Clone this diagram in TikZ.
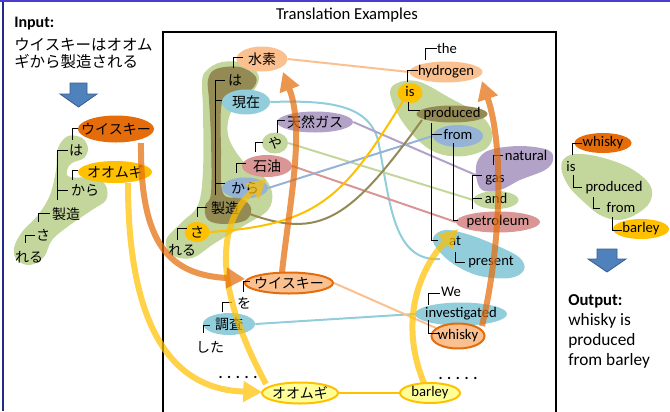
\documentclass[tikz,border=0pt]{standalone}
\usepackage{fontspec}
\setmainfont{Carlito}
\newfontfamily\jp{Noto Sans CJK JP}
\usetikzlibrary{shapes.geometric,arrows.meta}

\definecolor{dkorange}{HTML}{E46C0A}
\definecolor{ltorange}{HTML}{FAC090}
\definecolor{gold}{HTML}{FFC000}
\definecolor{ltyellow}{HTML}{FFFF99}
\definecolor{ltgreen}{HTML}{C3D69B}
\definecolor{olive}{HTML}{948A54}
\definecolor{ltblue}{HTML}{92CDDC}
\definecolor{slateblue}{HTML}{95B3D7}
\definecolor{lilac}{HTML}{B3A2C7}
\definecolor{rose}{HTML}{D99694}
\definecolor{arrowfill}{HTML}{4F81BD}
\definecolor{arrowedge}{HTML}{385D8A}
\definecolor{frametop}{HTML}{4A3CCF}
\definecolor{frameleft}{HTML}{1F2A8A}

\pgfdeclarelayer{under}
\pgfsetlayers{under,main}

\tikzset{
  en/.style={font=\fontsize{11}{13}\selectfont, inner sep=0pt, text height=8pt, text depth=2.5pt},
  ja/.style={font=\jp\fontsize{10.5}{12}\selectfont, inner sep=0pt, text height=9pt, text depth=1.3pt},
  ov/.style 2 args={ellipse, inner sep=0pt, minimum width=#1*0.75pt, minimum height=#2*0.75pt},
  jt/.style={label={[ja]center:#1}},
  et/.style={label={[en]center:#1}},
  treeline/.style={line width=0.7pt, black},
  conn/.style={line width=1.5pt},
  band/.style={line width=4.5pt, -{Triangle[length=14pt,width=15pt]}},
  blockarrow/.style={fill=arrowfill, draw=arrowedge, line width=0.6pt},
  dots/.style={font=\bfseries\fontsize{11.5}{13}\selectfont, inner sep=0pt},
  plain/.style={anchor=base west, inner sep=0pt, font=\fontsize{13}{15}\selectfont},
}

\begin{document}
\begin{tikzpicture}[x=0.75pt, y=-0.75pt]
\useasboundingbox (0,0) rectangle (670,411);

% slide frame
\draw[frameleft, line width=1.2pt] (3,0) -- (3,411);
\draw[frametop, line width=1.2pt] (0,1) -- (670,1);

% examples panel
\draw[line width=1.5pt] (163,416) -- (163,32) -- (556,32) -- (556,416);
\node[font=\fontsize{12.5}{15}\selectfont, inner sep=0pt] (title) at (347,15) {Translation Examples};

% ---------- input ----------
\node[anchor=base west, inner sep=0pt, font=\bfseries\fontsize{12}{14}\selectfont] (inlabel) at (14,27) {Input:};
\node[anchor=base west, inner sep=0pt, font=\jp\fontsize{11.6}{14}\selectfont] (inline1) at (14,50) {ウイスキーはオオム};
\node[anchor=base west, inner sep=0pt, font=\jp\fontsize{11.6}{14}\selectfont] (inline2) at (14,67) {ギから製造される};
\draw[blockarrow] (70,83) -- (87,83) -- (87,94) -- (97,94) -- (78.5,107) -- (60,94) -- (70,94) -- cycle;

% ---------- phrase regions ----------
\begin{pgfonlayer}{under}
  % input tree
  \fill[ltgreen] plot[smooth cycle, tension=0.6] coordinates {(68,136) (82,138) (88,148) (84,158) (72,163) (67,170) (70,177) (95,178) (106,186) (106,200) (92,210) (70,225) (52,240) (44,257) (30,265) (17,260) (14,248) (22,232) (38,215) (50,195) (56,170) (58,148)};
  % Japanese example
  \fill[ltgreen] plot[smooth cycle, tension=0.6] coordinates {(205,72) (222,62) (248,64) (259,78) (250,95) (232,110) (228,135) (242,160) (262,175) (272,192) (268,210) (245,225) (215,243) (192,258) (172,255) (166,240) (182,222) (198,205) (203,170) (203,110) (202,85)};
  \fill[olive] plot[smooth cycle, tension=0.6] coordinates {(208,80) (216,69) (240,67) (256,77) (252,89) (235,95) (222,102) (221,150) (223,193) (241,198) (251,208) (246,220) (225,224) (208,220) (205,206) (211,193) (211,140) (209,100)};
  % English example
  \fill[ltgreen] plot[smooth cycle, tension=0.6] coordinates {(390,92) (400,82) (420,82) (450,98) (480,115) (492,132) (487,148) (465,156) (440,154) (420,142) (400,118)};
  \fill[lilac] plot[smooth cycle, tension=0.6] coordinates {(478,160) (490,150) (520,146) (548,150) (553,160) (545,170) (520,180) (500,190) (482,190) (476,175)};
  \fill[ltblue] plot[smooth cycle, tension=0.6] coordinates {(433,238) (445,230) (470,235) (500,247) (520,258) (524,270) (510,278) (480,276) (455,265) (438,250)};
  % output tree
  \fill[ltgreen] plot[smooth cycle, tension=0.6] coordinates {(563,160) (575,154) (600,157) (630,168) (650,185) (650,202) (635,215) (618,220) (600,215) (585,203) (570,188) (562,172)};
\end{pgfonlayer}

% ---------- input tree ----------
\node[ov={76}{27}, fill=dkorange, jt=ウイスキー] (wain) at (116,129) {};
\node[ja] (hain) at (76,150) {は};
\node[ov={74}{22}, fill=gold, jt=オオムギ] (oomugiin) at (115,172) {};
\node[ja] (karain) at (85,190) {から};
\node[ja] (seizoin) at (66,214) {製造};
\node[ja] (sain) at (43,235) {さ};
\node[ja] (reruin) at (29,257) {れる};

% ---------- Japanese example ----------
\node[ov={51}{25}, fill=ltorange, jt=水素] (suiso) at (262,59) {};
\node[ja] (ha) at (235,80) {は};
\node[ov={48}{25}, fill=ltblue, jt=現在] (genzai) at (246,102) {};
\node[ov={76}{21}, fill=lilac, jt=天然ガス] (tennen) at (315,122) {};
\node[ov={26}{21}, fill=ltgreen, jt=や] (ya) at (275,143) {};
\node[ov={50}{22}, fill=rose, jt=石油] (sekiyu) at (267,166) {};
\node[ov={46}{21}, fill=slateblue, jt=から] (kara) at (245,188) {};
\node[ja] (seizo) at (225,208) {製造};
\node[ov={25}{20}, fill=gold, jt=さ] (sa) at (197,232) {};
\node[ja] (reru) at (182,250) {れる};
\node[ov={88}{21}, fill=ltorange, draw=dkorange, line width=1.5pt, jt=ウイスキー] (wisuki) at (289,283) {};
\node[ja] (wo) at (244,303) {を};
\node[ov={52}{22}, fill=ltblue, jt=調査] (chosa) at (229,324) {};
\node[ja] (shita) at (210,347) {した};
\node[dots] (dotsja) at (238,377) {. . . . .};
\node[ov={76}{21}, fill=ltyellow, draw=gold, line width=1.5pt, jt=オオムギ] (oomugi) at (300,393) {};

% ---------- English example ----------
\node[en] (the) at (447,50) {the};
\node[ov={73}{21}, fill=ltorange, et=hydrogen] (hydrogen) at (446,72) {};
\node[ov={25}{20}, fill=gold, et=is] (is) at (410,93) {};
\node[ov={71}{17}, fill=olive, et=produced] (produced) at (452,114) {};
\node[ov={50}{22}, fill=slateblue, et=from] (from) at (458,136) {};
\node[en] (natural) at (526,157) {natural};
\node[en] (gas) at (495,179) {gas};
\node[ov={45}{18}, fill=ltgreen, et=and] (and) at (496,200) {};
\node[ov={84}{21}, fill=rose, et=petroleum] (petroleum) at (498,222) {};
\node[en] (nat) at (455,242) {at};
\node[en] (present) at (491,262) {present};
\node[en] (we) at (451,293) {We};
\node[ov={92}{23}, fill=ltblue, et=investigated] (investigated) at (461,314) {};
\node[ov={53}{25}, fill=ltorange, draw=dkorange, line width=1.5pt, et=whisky] (whisky) at (458,336) {};
\node[dots] (dotsen) at (458,378) {. . . . .};
\node[ov={60}{20}, fill=ltyellow, draw=gold, line width=1.5pt, et=barley] (barley) at (430,393) {};

% ---------- output ----------
\node[ov={57}{20}, fill=dkorange, et=whisky] (owhisky) at (603,143) {};
\node[en] (ois) at (571,168) {is};
\node[en] (oproduced) at (614,188) {produced};
\node[en] (ofrom) at (621,209) {from};
\node[ov={56}{20}, fill=gold, et=barley] (obarley) at (641,229) {};
\draw[blockarrow] (597,249) -- (617,249) -- (617,259) -- (626,259) -- (607,272) -- (588,259) -- (597,259) -- cycle;
\node[anchor=base west, inner sep=0pt, font=\bfseries\fontsize{12.5}{15}\selectfont] (outlabel) at (568,305) {Output:};
\node[plain] (outl1) at (568,325) {whisky is};
\node[plain] (outl2) at (568,345) {produced};
\node[plain] (outl3) at (568,365) {from barley};

% ---------- word alignment links ----------
\begin{pgfonlayer}{under}
  \draw[conn, ltorange] (suiso.east) -- (hydrogen.west);
  \draw[conn, ltblue] (genzai.east) .. controls (330,100) and (368,105) .. (378,140)
        .. controls (390,200) and (392,262) .. ([shift={(-15,17)}]nat.center);
  \draw[conn, lilac] (tennen.east) -- ([shift={(-17,-3)}]gas.center);
  \draw[conn, ltgreen] (ya.east) -- (and.west);
  \draw[conn, rose] (sekiyu.east) -- (petroleum.west);
  \draw[conn, slateblue] (kara.east) -- (from.west);
  \draw[conn, olive] ([shift={(22,5)}]seizo.center) .. controls (320,240) and (350,220) .. ([shift={(-30,6)}]produced.center);
  \draw[conn, gold] (sa.east) .. controls (320,225) and (345,195) .. ([shift={(-7,8)}]is.center);
  \draw[conn, ltblue] (chosa.east) -- (investigated.west);
  \draw[conn, ltorange] (wisuki.east) -- (whisky.160);
  \draw[conn, gold] (oomugi.east) -- (barley.west);
\end{pgfonlayer}

% ---------- dependency brackets ----------
% input tree
\draw[treeline] (78,128) -- (72,128) -- (72,140);
\draw[treeline] (68,150) -- (57,150) -- (57,200);
\draw[treeline] (57,190) -- (68,190);
\draw[treeline] (78,170) -- (72,170) -- (72,180);
\draw[treeline] (50,213) -- (38,213) -- (38,222);
\draw[treeline] (35,235) -- (25,235) -- (25,243);
% Japanese example
\draw[treeline] (243,57) -- (233,57) -- (233,68);
\draw[treeline] (225,80) -- (215,80) -- (215,195);
\draw[treeline] (215,100) -- (222,100);
\draw[treeline] (215,183) -- (225,183);
\draw[treeline] (285,120) -- (277,120) -- (277,133);
\draw[treeline] (263,142) -- (255,142) -- (255,152);
\draw[treeline] (246,163) -- (236,163) -- (236,173);
\draw[treeline] (207,207) -- (197,207) -- (197,217);
\draw[treeline] (187,228) -- (177,228) -- (177,240);
\draw[treeline] (250,281) -- (243,281) -- (243,292);
\draw[treeline] (232,302) -- (222,302) -- (222,312);
\draw[treeline] (210,325) -- (203,325) -- (203,333);
% English example
\draw[treeline] (437,48) -- (425,48) -- (425,60);
\draw[treeline] (418,70) -- (407,70) -- (407,82);
\draw[treeline] (408,102) -- (408,110) -- (420,110);
\draw[treeline] (431,123) -- (431,240) -- (438,240);
\draw[treeline] (431,134) -- (442,134);
\draw[treeline] (453,143) -- (453,220) -- (458,220);
\draw[treeline] (472,209) -- (472,175) -- (482,175);
\draw[treeline] (472,198) -- (482,198);
\draw[treeline] (503,155) -- (493,155) -- (493,165);
\draw[treeline] (455,252) -- (455,262) -- (465,262);
\draw[treeline] (440,293) -- (428,293) -- (428,305);
\draw[treeline] (428,320) -- (428,333) -- (440,333);
% output tree
\draw[treeline] (582,143) -- (572,143) -- (572,155);
\draw[treeline] (573,175) -- (573,187) -- (582,187);
\draw[treeline] (593,197) -- (593,208) -- (600,208);
\draw[treeline] (612,217) -- (612,230) -- (622,230);

% ---------- phrase projection arrows ----------
\begin{scope}[transparency group, opacity=0.72]
  \draw[band, gold] ([shift={(13,11)}]oomugiin.center) .. controls (128,340) and (180,390) .. ([shift={(-38,-1)}]oomugi.center);
\end{scope}
\begin{scope}[transparency group, opacity=0.72]
  \draw[band, gold] ([shift={(-34,-9)}]oomugi.center) .. controls (215,290) and (215,225) .. ([shift={(21,-9)}]kara.center);
\end{scope}
\begin{scope}[transparency group, opacity=0.72]
  \draw[band, gold] ([shift={(-6,-10)}]barley.center) .. controls (396,315) and (425,262) .. ([shift={(3,-13)}]nat.center);
\end{scope}
\begin{scope}[transparency group, opacity=0.72]
  \draw[band, dkorange] ([shift={(25,14)}]wain.center) .. controls (140,245) and (170,275) .. ([shift={(-44,-4)}]wisuki.center);
\end{scope}
\begin{scope}[transparency group, opacity=0.72]
  \draw[band, dkorange] ([shift={(24,-10)}]whisky.center) .. controls (500,250) and (505,150) .. ([shift={(36,9)}]hydrogen.center);
\end{scope}
\begin{scope}[transparency group, opacity=0.72]
  \draw[band, dkorange] ([shift={(-7,-11)}]wisuki.center) .. controls (290,200) and (305,130) .. ([shift={(21,13)}]suiso.center);
\end{scope}
\end{tikzpicture}
\end{document}
